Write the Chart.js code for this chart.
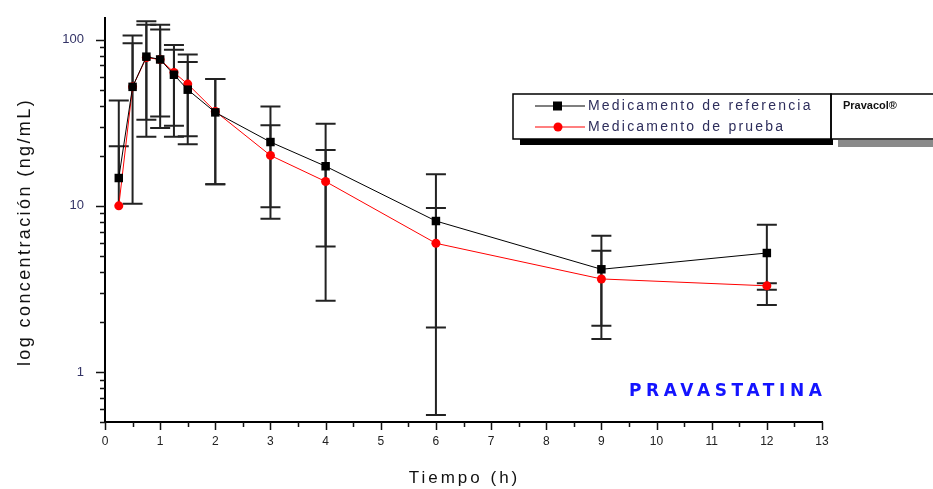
<!DOCTYPE html>
<html>
<head>
<meta charset="utf-8">
<script src="https://cdn.jsdelivr.net/npm/chart.js@4.4.1/dist/chart.umd.min.js"></script>
<style>
  html, body { margin: 0; padding: 0; background: #fff; }
  canvas { display: block; }
</style>
</head>
<body>
<canvas id="pkChart" width="933" height="489"></canvas>
<script>
// sampling times (h)
const times = [0.25, 0.5, 0.75, 1, 1.25, 1.5, 2, 3, 4, 6, 9, 12];

// reference product (Pravacol)
const refMean  = [14.7, 52, 79, 76, 61.5, 50, 36.5, 24.2, 17.3, 8.1, 4.15, 5.2];
const refUpper = [43, 106, 129, 123, 93, 73.4, 58, 39.6, 31.2, 15.5, 6.6, 7.7];
const refLower = [null, null, 26, 29.4, 26, 23.5, 13.5, 8.35, 2.68, 0.55, 1.58, 2.53];

// test product
const testMean  = [10.0, 52, 78, 76, 63.5, 54, 37, 20.1, 14.0, 5.95, 3.63, 3.3];
const testUpper = [22.8, 95, 123, 115, 87, 81.4, 58, 30.5, 21.7, 9.7, 5.36, 3.42];
const testLower = [null, 10.3, 33, 34.5, 30.3, 26.2, 13.5, 9.8, 5.69, 1.85, 1.9, 3.12];

// axis ticks
const xTicks = [0, 1, 2, 3, 4, 5, 6, 7, 8, 9, 10, 11, 12, 13];
const yMajorTicks = [1, 10, 100];
const yMin = 0.5, yMax = 135;

const seriesLabels = ['Medicamento de referencia', 'Medicamento de prueba'];
const xTitle = 'Tiempo (h)';
const yTitle = 'log concentración (ng/mL)';

const errBars = [
    { upper: refUpper, lower: refLower },
    { upper: testUpper, lower: testLower }
];

// error bars behind the markers
const errorBarPlugin = {
    id: 'errorBars',
    beforeDatasetsDraw(chart) {
        const ctx = chart.ctx;
        const xs = chart.scales.x, ys = chart.scales.y;
        ctx.save();
        ctx.strokeStyle = '#222';
        ctx.lineWidth = 2;
        errBars.forEach((eb, di) => {
            const mean = chart.data.datasets[di].data;
            times.forEach((t, i) => {
                const px = xs.getPixelForValue(t);
                const top = ys.getPixelForValue(eb.upper[i]);
                const hasLow = eb.lower[i] !== null;
                const bot = hasLow ? ys.getPixelForValue(eb.lower[i]) : ys.getPixelForValue(mean[i].y);
                ctx.beginPath();
                ctx.moveTo(px, top);
                ctx.lineTo(px, bot);
                ctx.moveTo(px - 10, top);
                ctx.lineTo(px + 10, top);
                if (hasLow) {
                    ctx.moveTo(px - 10, bot);
                    ctx.lineTo(px + 10, bot);
                }
                ctx.stroke();
            });
        });
        ctx.restore();
    }
};

// tick marks, axis titles, legend box and label
const decorPlugin = {
    id: 'decor',
    afterDraw(chart) {
        const ctx = chart.ctx;
        const xs = chart.scales.x, ys = chart.scales.y;
        const area = chart.chartArea;
        ctx.save();
        ctx.strokeStyle = '#111';
        ctx.lineWidth = 1.5;
        ctx.beginPath();
        // y ticks (outside, left)
        yMajorTicks.forEach(d => {
            [0.5, 0.6, 0.7, 0.8, 0.9].forEach(f => {
                const v = d * f;
                if (v < yMin || v > yMax) return;
                const py = Math.round(ys.getPixelForValue(v)) + 0.5;
                ctx.moveTo(area.left - 5, py);
                ctx.lineTo(area.left, py);
            });
            [1, 2, 3, 4, 5, 6, 7, 8, 9].forEach(f => {
                const v = d * f;
                if (v < yMin || v > yMax) return;
                const py = Math.round(ys.getPixelForValue(v)) + 0.5;
                ctx.moveTo(area.left - (f === 1 ? 9 : 5), py);
                ctx.lineTo(area.left, py);
            });
        });
        // x ticks (outside, below)
        xTicks.forEach(t => {
            const px = Math.round(xs.getPixelForValue(t)) + 0.5;
            ctx.moveTo(px, area.bottom);
            ctx.lineTo(px, area.bottom + 8);
            if (t < xTicks[xTicks.length - 1]) {
                const pm = Math.round(xs.getPixelForValue(t + 0.5)) + 0.5;
                ctx.moveTo(pm, area.bottom);
                ctx.lineTo(pm, area.bottom + 5);
            }
        });
        ctx.stroke();

        // axis titles
        ctx.fillStyle = '#111';
        ctx.textAlign = 'center';
        ctx.textBaseline = 'middle';
        ctx.font = '17px "Liberation Sans", Arial, sans-serif';
        ctx.letterSpacing = '3px';
        ctx.fillText(xTitle, (area.left + area.right) / 2 + 1, 478);
        ctx.save();
        ctx.translate(25, 232);
        ctx.rotate(-Math.PI / 2);
        ctx.font = '18px "Liberation Sans", Arial, sans-serif';
        ctx.letterSpacing = '2.4px';
        ctx.fillText(yTitle, 0, 0);
        ctx.restore();

        // legend shadows
        ctx.fillStyle = '#000';
        ctx.fillRect(520, 139, 313, 6);
        ctx.fillStyle = '#8a8a8a';
        ctx.fillRect(838, 140, 95, 7);
        // legend boxes
        ctx.fillStyle = '#fff';
        ctx.fillRect(513, 94, 420, 45);
        ctx.strokeStyle = '#000';
        ctx.lineWidth = 1.5;
        ctx.strokeRect(513, 94, 318, 45);
        ctx.strokeRect(831, 94, 110, 45);

        // legend samples
        const rows = [{ y: 106, color: '#000', ds: 0 }, { y: 127, color: '#ff0000', ds: 1 }];
        rows.forEach(r => {
            ctx.strokeStyle = r.color;
            ctx.lineWidth = 1.2;
            ctx.beginPath();
            ctx.moveTo(535, r.y);
            ctx.lineTo(585, r.y);
            ctx.stroke();
            ctx.fillStyle = r.color;
            if (r.ds === 0) {
                ctx.fillRect(553, r.y - 4.5, 9, 9);
            } else {
                ctx.beginPath();
                ctx.arc(558, r.y, 4.5, 0, Math.PI * 2);
                ctx.fill();
            }
            ctx.fillStyle = '#2e2e5c';
            ctx.font = '14px "Liberation Sans", Arial, sans-serif';
            ctx.letterSpacing = '2.2px';
            ctx.textAlign = 'left';
            ctx.textBaseline = 'middle';
            ctx.fillText(seriesLabels[r.ds], 588, r.y);
        });
        ctx.letterSpacing = '0px';
        ctx.fillStyle = '#111';
        ctx.font = 'bold 11px "Liberation Sans", Arial, sans-serif';
        ctx.fillText('Pravacol®', 843, 106);

        // drug name
        ctx.fillStyle = '#1414ff';
        ctx.font = 'bold 17px "DejaVu Sans", sans-serif';
        ctx.letterSpacing = '4.6px';
        ctx.textAlign = 'left';
        ctx.fillText('PRAVASTATINA', 629, 392);
        ctx.restore();
    }
};

const ctx = document.getElementById('pkChart').getContext('2d');
const pkChart = new Chart(ctx, {
    type: 'line',
    data: {
        datasets: [{
            label: seriesLabels[0],
            data: times.map((t, i) => ({ x: t, y: refMean[i] })),
            borderColor: '#000',
            backgroundColor: '#000',
            borderWidth: 1,
            pointStyle: 'rect',
            pointRadius: 6,
            pointBorderWidth: 0,
            tension: 0
        }, {
            label: seriesLabels[1],
            data: times.map((t, i) => ({ x: t, y: testMean[i] })),
            borderColor: '#ff0000',
            backgroundColor: '#ff0000',
            borderWidth: 1,
            pointStyle: 'circle',
            pointRadius: 4.5,
            pointBorderWidth: 0,
            tension: 0
        }]
    },
    options: {
        responsive: false,
        animation: false,
        layout: { padding: { left: 0, top: 18, right: 111, bottom: 0 } },
        plugins: {
            legend: { display: false },
            tooltip: { enabled: false }
        },
        scales: {
            x: {
                type: 'linear',
                min: 0,
                max: 13,
                afterFit: s => { s.height = 67; s.paddingLeft = 0; s.paddingRight = 0; },
                afterBuildTicks: s => { s.ticks = xTicks.map(v => ({ value: v })); },
                grid: { display: false, drawTicks: false },
                border: { display: true, color: '#000', width: 2 },
                ticks: {
                    padding: 12,
                    color: '#222',
                    font: { family: '"Liberation Sans", Arial, sans-serif', size: 12 },
                    maxRotation: 0,
                    autoSkip: false
                },
                title: { display: false }
            },
            y: {
                type: 'logarithmic',
                min: yMin,
                max: yMax,
                afterFit: s => { s.width = 105; s.paddingTop = 0; s.paddingBottom = 0; },
                afterBuildTicks: s => { s.ticks = yMajorTicks.map(v => ({ value: v, major: true })); },
                grid: { display: false, drawTicks: false },
                border: { display: true, color: '#000', width: 2 },
                ticks: {
                    padding: 21,
                    color: '#333366',
                    font: { family: '"Liberation Sans", Arial, sans-serif', size: 13 },
                    callback: v => String(v)
                },
                title: { display: false }
            }
        }
    },
    plugins: [errorBarPlugin, decorPlugin]
});
</script>
</body>
</html>
